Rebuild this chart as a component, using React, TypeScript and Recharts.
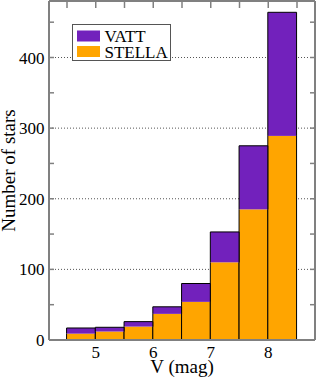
import React from 'react';
import { BarChart, Bar, XAxis, YAxis, CartesianGrid, Legend, Label, ReferenceLine } from 'recharts';

// Bin centres (V magnitude bins, 0.5 mag wide)
const binCentres = [4.75, 5.25, 5.75, 6.25, 6.75, 7.25, 7.75, 8.25];
// STELLA counts (bottom segment)
const stella = [9, 12, 19, 37, 54, 110, 185, 289];
// VATT counts (stacked on top)
const vatt = [8, 6, 7, 10, 26, 43, 90, 175];
// Axis ticks
const xTicks = [5, 6, 7, 8];
const xMinorTicks = [4.5, 5, 5.5, 6, 6.5, 7, 7.5, 8, 8.5];
const yTicks = [0, 100, 200, 300, 400];
const yMinorTicks = [50, 100, 150, 200, 250, 300, 350, 400, 450];

const data = binCentres.map((m, i) => ({ mid: m, stella: stella[i], vatt: vatt[i] }));

const PURPLE = '#7221BC';
const ORANGE = '#FFA500';
const FRAME = '#808080';
const FONT = '"Liberation Serif", "DejaVu Serif", serif';

const W = 316;
const H = 380;
const PAD = 18;
const PLOT_W = W - 49 - 1;
const PX_PER_MAG = (PLOT_W - 2 * PAD) / 4;
const X_DOMAIN: [number, number] = [4.5 - PAD / PX_PER_MAG, 8.5 + PAD / PX_PER_MAG];
const Y_MAX = 480;
const BAR_W = PX_PER_MAG * 0.5;
const PX_PER_COUNT = 339 / Y_MAX;
const TOP_TICK_LEN = 7 / PX_PER_COUNT; // in counts
const SIDE_TICK_LEN = 5 / PX_PER_MAG; // in mag

const StellaShape = (props: any) => {
  const { x, y, width, height } = props;
  if (!height) return <g />;
  const cx = x + width / 2;
  const l = cx - BAR_W / 2;
  const r = cx + BAR_W / 2;
  return (
    <g>
      <rect x={l} y={y} width={BAR_W} height={height} fill={ORANGE} />
      <path d={`M${l},${y + height}V${y}M${r},${y}V${y + height}`} stroke="#000" strokeWidth={1} fill="none" />
    </g>
  );
};

const VattShape = (props: any) => {
  const { x, y, width, height } = props;
  if (!height) return <g />;
  const cx = x + width / 2;
  const l = cx - BAR_W / 2;
  const r = cx + BAR_W / 2;
  return (
    <g>
      <rect x={l} y={y} width={BAR_W} height={height} fill={PURPLE} />
      <path d={`M${l},${y + height}V${y}H${r}V${y + height}`} stroke="#000" strokeWidth={1} fill="none" />
    </g>
  );
};

const XTick = (props: any) => {
  const { x, y, payload } = props;
  return (
    <text x={x} y={y + 12} textAnchor="middle" fontFamily={FONT} fontSize={17} fill="#000">
      {payload.value}
    </text>
  );
};

const YTick = (props: any) => {
  const { x, y, payload } = props;
  return (
    <text x={x} y={y + 6} textAnchor="end" fontFamily={FONT} fontSize={17} fill="#000">
      {payload.value}
    </text>
  );
};

const LegendBox = (props: any) => {
  const items = [...(props.payload || [])].reverse();
  return (
    <svg width={100} height={38} style={{ display: 'block' }}>
      <rect x={0.5} y={0.5} width={98} height={36} fill="#fff" stroke="#555" strokeWidth={1} />
      {items.map((it: any, i: number) => (
        <g key={it.value}>
          <rect x={5} y={6.5 + i * 15.5} width={23} height={11} fill={it.color} />
          <text x={32.5} y={18.3 + i * 15.4} fontFamily={FONT} fontSize={17} fill="#000">
            {it.value}
          </text>
        </g>
      ))}
    </svg>
  );
};

const YLabel = (props: any) => {
  const vb = props.viewBox || { x: 0, y: 0, width: 49, height: 338 };
  const cx = vb.x + 15;
  const cy = vb.y + vb.height / 2;
  return (
    <text x={cx} y={cy} transform={`rotate(-90 ${cx} ${cy})`} textAnchor="middle" fontFamily={FONT} fontSize={19} fill="#000">
      Number of stars
    </text>
  );
};

const XLabel = (props: any) => {
  const vb = props.viewBox || { x: 49, y: 340, width: 266, height: 40 };
  return (
    <text x={vb.x + vb.width / 2} y={vb.y + 32.5} textAnchor="middle" fontFamily={FONT} fontSize={19} fill="#000">
      V (mag)
    </text>
  );
};

export default function App() {
  const axisLine = { stroke: FRAME, strokeWidth: 2 };
  return (
    <div style={{ position: 'absolute', left: 0, top: 0, fontFamily: FONT }}>
      <BarChart
        width={W}
        height={H}
        data={data}
        margin={{ top: 1, right: 1, bottom: 0, left: 0 }}
        barCategoryGap={0}
        barGap={0}
        style={{ fontFamily: FONT }}
      >
        <XAxis
          xAxisId="num"
          dataKey="mid"
          type="number"
          orientation="bottom"
          domain={X_DOMAIN}
          allowDataOverflow
          ticks={xTicks}
          height={40}
          tickLine={false}
          tickSize={0}
          tickMargin={6}
          axisLine={axisLine}
          tick={<XTick />}
        >
          <Label content={<XLabel />} />
        </XAxis>
        <YAxis
          yAxisId="l"
          type="number"
          domain={[0, Y_MAX]}
          allowDataOverflow
          ticks={yTicks}
          width={49}
          tickLine={false}
          tickSize={0}
          tickMargin={4.5}
          axisLine={axisLine}
          tick={<YTick />}
        >
          <Label content={<YLabel />} />
        </YAxis>
        <CartesianGrid xAxisId="num" yAxisId="l" vertical={false} stroke="#555" strokeDasharray="1 2" />
        <Bar xAxisId="num" yAxisId="l" dataKey="stella" name="STELLA" stackId="a" fill={ORANGE} barSize={BAR_W} shape={<StellaShape />} isAnimationActive={false} />
        <Bar xAxisId="num" yAxisId="l" dataKey="vatt" name="VATT" stackId="a" fill={PURPLE} barSize={BAR_W} shape={<VattShape />} isAnimationActive={false} />
        {/* frame: top and right edges */}
        <ReferenceLine xAxisId="num" yAxisId="l" y={Y_MAX} stroke={FRAME} strokeWidth={2} ifOverflow="visible" />
        <ReferenceLine xAxisId="num" yAxisId="l" x={X_DOMAIN[1]} stroke={FRAME} strokeWidth={2} ifOverflow="visible" />
        {/* inward ticks on top edge */}
        {xMinorTicks.map((t) => (
          <ReferenceLine
            key={`t${t}`}
            xAxisId="num"
            yAxisId="l"
            segment={[{ x: t, y: Y_MAX }, { x: t, y: Y_MAX - TOP_TICK_LEN }]}
            stroke={FRAME}
            strokeWidth={1.5}
            ifOverflow="visible"
          />
        ))}
        {/* inward minor ticks on left and right edges */}
        {yMinorTicks.map((v) => (
          <ReferenceLine
            key={`l${v}`}
            xAxisId="num"
            yAxisId="l"
            segment={[{ x: X_DOMAIN[0], y: v }, { x: X_DOMAIN[0] + SIDE_TICK_LEN, y: v }]}
            stroke={FRAME}
            strokeWidth={1.5}
            ifOverflow="visible"
          />
        ))}
        {yMinorTicks.map((v) => (
          <ReferenceLine
            key={`r${v}`}
            xAxisId="num"
            yAxisId="l"
            segment={[{ x: X_DOMAIN[1], y: v }, { x: X_DOMAIN[1] - SIDE_TICK_LEN, y: v }]}
            stroke={FRAME}
            strokeWidth={1.5}
            ifOverflow="visible"
          />
        ))}
        <Legend
          layout="horizontal"
          verticalAlign="middle"
          align="center"
          content={<LegendBox />}
          wrapperStyle={{ position: 'absolute', left: 72, top: 24, width: 100, height: 38 }}
        />
      </BarChart>
    </div>
  );
}
